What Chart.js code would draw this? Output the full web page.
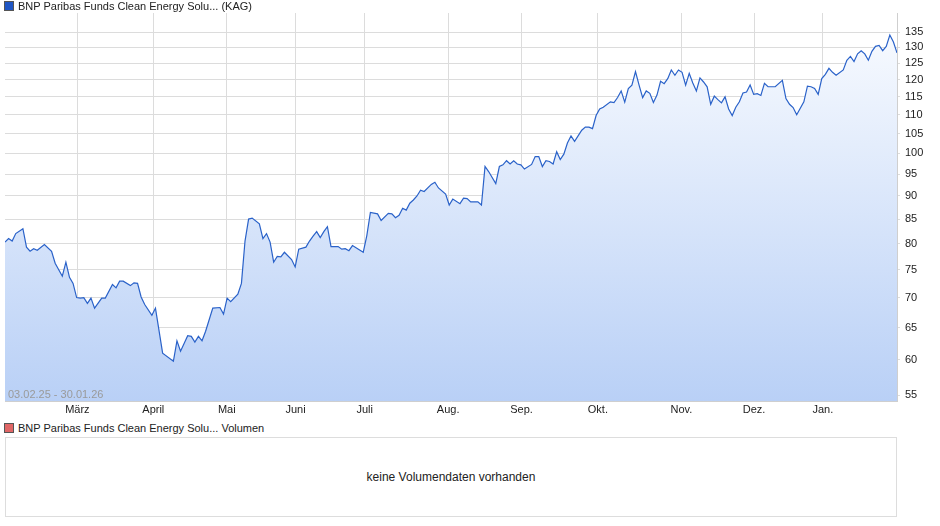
<!DOCTYPE html>
<html>
<head>
<meta charset="utf-8">
<script src="https://cdn.jsdelivr.net/npm/chart.js@4"></script>
<style>
body { margin: 0; width: 940px; height: 526px; background: #fff; font-family: "Liberation Sans", Arial, sans-serif; position: relative; overflow: hidden; }
#wrap { position: absolute; left: 0; top: 0; width: 940px; height: 420px; }
.legend { position: absolute; left: 4px; font-size: 11px; color: #222; white-space: nowrap; }
.legend i { display: inline-block; width: 8px; height: 8px; margin-right: 4px; vertical-align: -1px; border: 1px solid #555; }
#volbox { position: absolute; left: 5px; top: 437px; width: 892px; height: 80px; border: 1px solid #ddd; box-sizing: border-box; text-align: center; line-height: 78px; font-size: 12px; color: #222; }
</style>
</head>
<body>
<div id="wrap"><canvas id="priceChart"></canvas></div>
<div class="legend" style="top:0px"><i style="background:#1f56c4"></i>BNP Paribas Funds Clean Energy Solu... (KAG)</div>
<div class="legend" style="top:422px"><i style="background:#e06666"></i>BNP Paribas Funds Clean Energy Solu... Volumen</div>
<div id="volbox">keine Volumendaten vorhanden</div>
<script>
// trading-day index and fund price
const days = [0, 1, 2, 3, 5, 6, 7, 8, 9, 11, 13, 14, 16, 17, 18, 19, 20, 21, 22, 23, 24, 25, 27, 28, 30, 31, 32, 33, 35, 36, 37, 38, 39, 41, 42, 44, 47, 48, 49, 51, 52, 53, 54, 55, 56, 58, 60, 61, 62, 63, 65, 66, 67, 68, 69, 71, 72, 73, 74, 75, 76, 77, 78, 80, 81, 82, 84, 85, 86, 87, 88, 89, 90, 91, 93, 94, 95, 96, 97, 100, 101, 102, 104, 105, 107, 108, 109, 110, 111, 112, 113, 114, 115, 116, 117, 119, 120,
    121, 123, 124, 125, 127, 128, 129, 130, 132, 133, 134, 135, 137, 138, 139, 140, 141, 142, 143, 144, 145, 147, 148, 149, 150, 151, 152, 153, 154, 155, 156, 157, 158, 159, 161, 162, 163, 164, 165, 166, 167, 169, 170, 171, 172, 173, 174, 175, 176, 177, 178, 179, 180, 181, 182, 183, 184, 185, 186, 187, 188, 189, 190, 191, 192, 193, 194, 195, 196, 197, 198, 199, 200, 201, 202, 203, 204, 205, 206, 207, 208, 209, 210, 211, 212, 213, 215, 217, 218, 219, 220, 221, 223, 224, 225, 226, 227, 228, 229, 230, 231, 232, 234, 235, 236, 237, 238, 239, 240, 241, 242, 243, 244, 245, 246, 247, 248, 249];
const prices = [80.3, 81, 80.5, 82, 83, 79.3, 78.5, 79, 78.7, 79.8, 78.5, 76.2, 73.8, 76.4, 73.6, 72.5, 70, 69.9, 70, 69, 69.9, 68.2, 69.9, 69.9, 72.3, 71.7, 72.9, 72.9, 72.1, 72.6, 72.5, 70.1, 68.8, 67, 68.2, 61, 59.8, 62.9, 61.3, 63.7, 63.6, 62.7, 63.6, 62.9, 64.4, 68.2, 68.3, 67.2, 69.9, 69.3, 70.6, 72.5, 80.5, 85, 85.2, 84, 81, 82, 80.3, 76.4, 77.5, 77.4, 78.3, 76.9, 75.5, 78.9, 79.3, 80.5, 81.5, 82.4, 81.2, 82.4, 83.4, 79.4, 79.4, 78.9, 79, 78.6, 79.6, 78.3, 81.6, 86.4, 86.1, 84.7, 86.2, 86.1, 85.3, 85.8, 87.3, 86.9, 88.4, 89.1, 90, 91.3, 91, 92.6, 93.1,
    91.8, 90.4, 88, 89.3, 88.3, 89.5, 89.4, 88.7, 88.7, 88, 96.8, 95.6, 92.8, 96.8, 97.2, 98.2, 97.4, 98.2, 97.4, 97.2, 96.2, 97.3, 99.2, 99.2, 96.8, 98.2, 98, 97.4, 100.4, 98.5, 99.8, 102.6, 104.4, 103, 105.9, 106.7, 106.7, 106.3, 109.8, 111.6, 112.1, 113.6, 113.4, 114.8, 116.7, 113.5, 117.4, 118.4, 122.4, 118.4, 114.8, 116.7, 116, 113.4, 115.5, 119.5, 118.8, 120.3, 122.9, 121.3, 122.9, 122.2, 118.4, 121.9, 119, 116.7, 120.5, 119.3, 117.9, 112.9, 115.2, 114.2, 113.3, 115, 111.6, 109.8, 112.1, 113.6, 116.1, 116.4, 118.4, 115.7, 115.9, 115.4, 118.9, 117.9, 117.9, 119.8, 114.5, 112.9, 112, 110, 113.6, 118.1, 117.9, 117.4, 115.7, 120.3, 121.6, 123.4, 122.2, 121.3, 122.9, 125.9, 127.1, 125.5, 127.9, 128.9, 127.9, 125.9, 128.7, 130.3, 130.6, 128.9, 130.3, 134, 131.7, 128.2];
const monthLabels = ['März', 'April', 'Mai', 'Juni', 'Juli', 'Aug.', 'Sep.', 'Okt.', 'Nov.', 'Dez.', 'Jan.'];
const monthStarts = [20.2, 41.4, 61.9, 81.1, 100.4, 123.7, 144.2, 165.5, 188.8, 209.1, 228.3];
const priceTicks = [55, 60, 65, 70, 75, 80, 85, 90, 95, 100, 105, 110, 115, 120, 125, 130, 135];

const canvas = document.getElementById('priceChart');
const ctx = canvas.getContext('2d');

const rangeLabel = {
    id: 'rangeLabel',
    afterDatasetsDraw(chart) {
        const { ctx, chartArea } = chart;
        ctx.save();
        ctx.font = '11px "Liberation Sans", Arial, sans-serif';
        ctx.fillStyle = '#9a9a9a';
        ctx.textBaseline = 'bottom';
        ctx.fillText('03.02.25 - 30.01.26', chartArea.left + 3, chartArea.bottom - 1);
        ctx.restore();
    }
};

new Chart(canvas, {
    type: 'line',
    data: {
        datasets: [{
            data: days.map((d, i) => ({ x: d, y: prices[i] })),
            borderColor: '#2a62c9',
            borderWidth: 1.2,
            pointRadius: 0,
            tension: 0,
            fill: 'start',
            backgroundColor: (c) => {
                const area = c.chart.chartArea;
                if (!area) return 'rgba(190,210,245,0.6)';
                const g = c.chart.ctx.createLinearGradient(0, area.top, 0, area.bottom);
                g.addColorStop(0, '#fafcff');
                g.addColorStop(1, '#b9d0f6');
                return g;
            }
        }]
    },
    options: {
        responsive: true,
        maintainAspectRatio: false,
        animation: false,
        layout: { padding: { left: 5, top: 13, right: 0, bottom: 0 } },
        plugins: { legend: { display: false }, tooltip: { enabled: false } },
        scales: {
            x: {
                type: 'linear',
                min: 0,
                max: 249,
                afterBuildTicks: (scale) => { scale.ticks = monthStarts.map(v => ({ value: v })); },
                afterFit: (scale) => { scale.height = 19; },
                ticks: {
                    autoSkip: false,
                    maxRotation: 0,
                    padding: 2,
                    color: '#222',
                    font: { family: '"Liberation Sans", Arial, sans-serif', size: 11 },
                    callback: (v, i) => monthLabels[i]
                },
                grid: { color: '#dcdcdc', drawTicks: false },
                border: { color: '#cfcfcf' }
            },
            y: {
                type: 'logarithmic',
                position: 'right',
                min: 54.2,
                max: 141.5,
                afterBuildTicks: (scale) => { scale.ticks = priceTicks.map(v => ({ value: v })); },
                afterFit: (scale) => { scale.width = 43; },
                ticks: {
                    autoSkip: false,
                    padding: 5,
                    color: '#222',
                    font: { family: '"Liberation Sans", Arial, sans-serif', size: 11 },
                    callback: (v) => String(v)
                },
                grid: { color: '#dcdcdc', drawTicks: true, tickLength: 3 },
                border: { color: '#cfcfcf' }
            }
        }
    },
    plugins: [rangeLabel]
});
</script>
</body>
</html>
